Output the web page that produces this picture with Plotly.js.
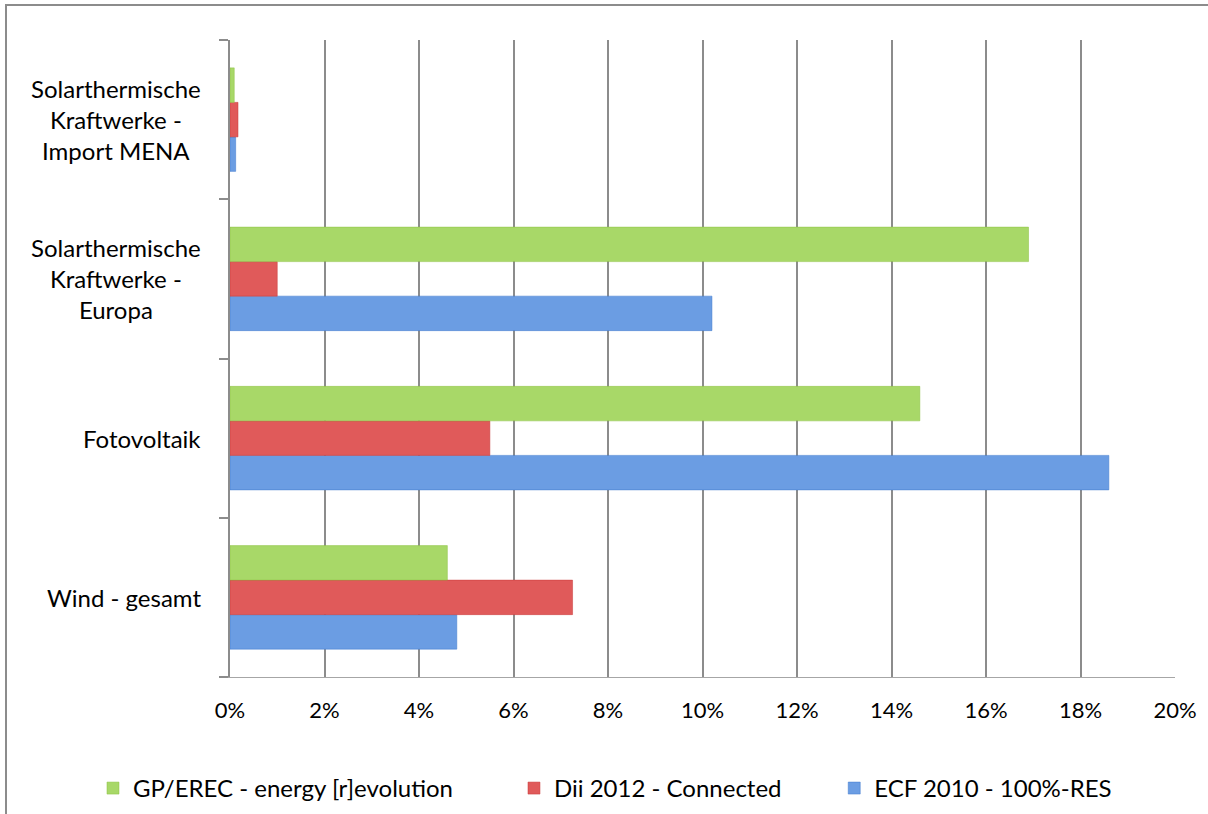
<!DOCTYPE html>
<html><head><meta charset="utf-8">
<script src="https://cdn.plot.ly/plotly-3.0.1.min.js"></script>
<style>
html,body{margin:0;padding:0;background:#fff;}
#chart{position:absolute;left:0;top:0;width:1208px;height:814px;}
#frame{position:absolute;left:5px;top:4px;width:1210px;height:820px;border-left:2px solid #8c8c8c;border-top:2px solid #8c8c8c;pointer-events:none;}
</style></head>
<body>
<div id="chart"></div>
<div id="frame"></div>
<script>
// categories, bottom to top
const categories = ["Wind - gesamt", "Fotovoltaik", "Solarthermische<br>Kraftwerke -<br>Europa", "Solarthermische<br>Kraftwerke -<br>Import MENA"];
const seriesNames = ["GP/EREC - energy [r]evolution", "Dii 2012 - Connected", "ECF 2010 - 100%-RES"];
const gpErec = [0.046, 0.146, 0.169, 0.0009];
const dii2012 = [0.0725, 0.055, 0.010, 0.0017];
const ecf2010 = [0.048, 0.186, 0.102, 0.0012];
const xTickVals = [0, 0.02, 0.04, 0.06, 0.08, 0.10, 0.12, 0.14, 0.16, 0.18, 0.20];

const font = "Lato, 'Open Sans', sans-serif";
const colors = ["#a8d868", "#e05a5a", "#6b9de3"];
const lineColors = ["#8cc040", "#c83a3a", "#3f78cc"];

function mk(vals, i, leg) {
  return {
    type: "bar", orientation: "h", y: categories, x: vals, name: seriesNames[i],
    marker: {color: colors[i], line: {color: lineColors[i], width: 0.5}},
    legend: leg, hoverinfo: "x+name"
  };
}
// order: blue first (bottom in group), then red, then green (top)
const data = [mk(ecf2010, 2, "legend3"), mk(dii2012, 1, "legend2"), mk(gpErec, 0, "legend")];

const legendBase = {orientation: "h", yanchor: "middle", y: -0.175, xanchor: "left",
  font: {family: font, size: 24, color: "#000"}, bgcolor: "rgba(0,0,0,0)", itemwidth: 30};

const annotations = categories.map(c => ({
  xref: "paper", yref: "y", x: -0.029, y: c, xanchor: "right", yanchor: "middle",
  align: "center", showarrow: false, text: c, font: {family: font, size: 24, color: "#000"}
}));

const layout = {
  width: 1208, height: 814,
  margin: {l: 230, r: 33, t: 40, b: 137, autoexpand: false},
  paper_bgcolor: "#fff", plot_bgcolor: "#fff",
  barmode: "group", bargap: 0.35, bargroupgap: 0,
  font: {family: font, size: 22, color: "#000"},
  xaxis: {range: [0, 0.20], tickvals: xTickVals, tickformat: ".0%", showgrid: true,
    gridcolor: "#8c8c8c", gridwidth: 2, zeroline: false, showline: true, linecolor: "#a6a6a6",
    linewidth: 1, ticks: "", tickfont: {family: font, size: 22, color: "#000"}, ticklabelstandoff: 14,
    fixedrange: true, automargin: false},
  yaxis: {type: "category", categoryorder: "array", categoryarray: categories,
    showticklabels: false, showgrid: false, zeroline: false, showline: true,
    linecolor: "#8c8c8c", linewidth: 2, ticks: "outside", tickson: "boundaries",
    ticklen: 9, tickwidth: 2, tickcolor: "#8c8c8c", fixedrange: true, automargin: false},
  annotations: annotations,
  showlegend: true,
  legend: Object.assign({}, legendBase, {x: -0.145}),
  legend2: Object.assign({}, legendBase, {x: 0.3005}),
  legend3: Object.assign({}, legendBase, {x: 0.6394})
};
Plotly.newPlot("chart", data, layout, {displayModeBar: false, staticPlot: true});
</script>
</body></html>
